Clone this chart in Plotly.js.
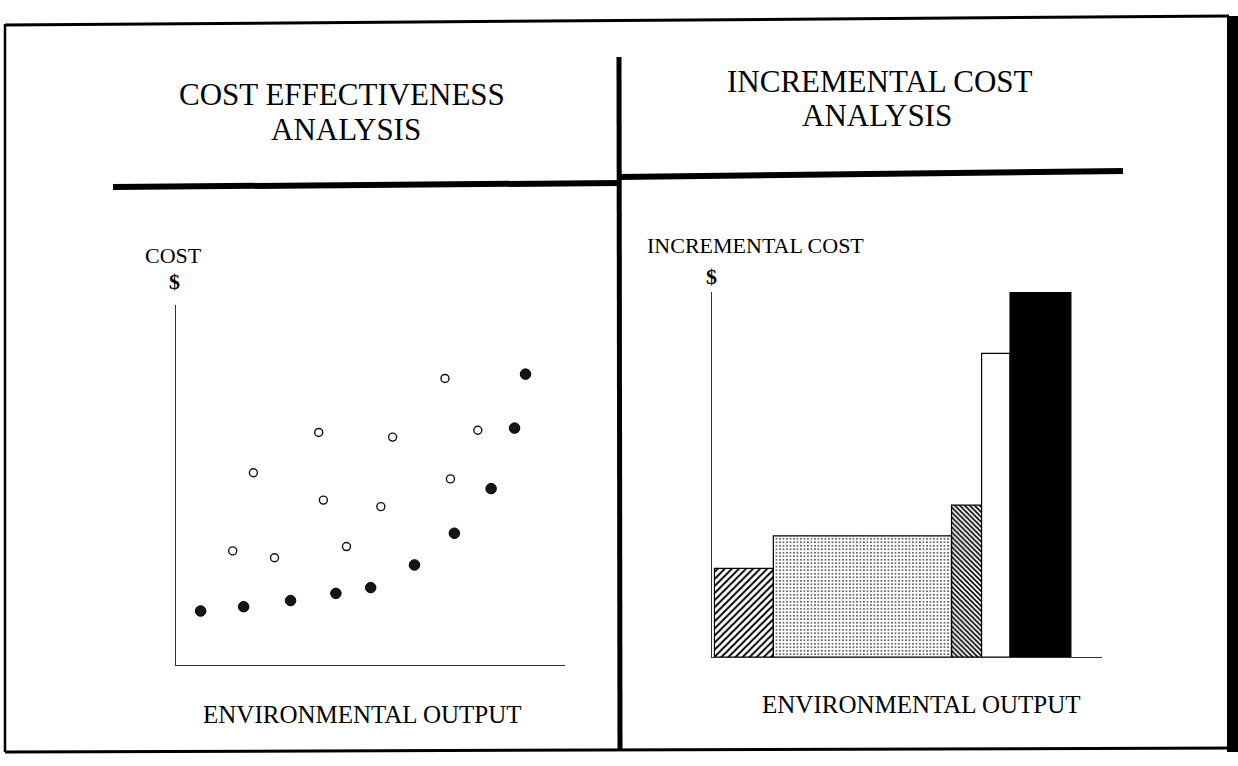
<!DOCTYPE html>
<html>
<head>
<meta charset="utf-8">
<script src="https://cdn.plot.ly/plotly-3.0.1.min.js"></script>
<style>html,body{margin:0;padding:0;background:#fff;}#chart{width:1238px;height:766px;}</style>
</head>
<body>
<div id="chart"></div>
<script>
// ---- Data (arbitrary units 0-100) ----
// Cost effectiveness analysis: efficient (filled) and other (open) plans
const efficientOutput = [6.8, 17.8, 29.8, 41.4, 50.3, 61.5, 71.7, 81.1, 87.1, 89.9];
const efficientCost   = [15.0, 16.2, 17.9, 19.9, 21.5, 27.8, 36.6, 49.0, 65.8, 80.8];
const otherOutput = [15.0, 20.3, 25.7, 37.0, 38.2, 44.1, 52.9, 55.9, 69.3, 70.7, 77.7];
const otherCost   = [31.7, 53.4, 29.8, 64.6, 45.8, 32.9, 44.0, 63.3, 79.6, 51.7, 65.2];

// Incremental cost analysis: output increments and incremental cost
const incrementStart = [0.7, 15.8, 61.5, 69.2, 76.5];
const incrementWidth = [15.1, 45.7, 7.7, 7.3, 15.6];
const incrementalCost = [24.3, 33.2, 41.6, 83.2, 99.9];

// Text
const leftTitle = ["COST EFFECTIVENESS", "ANALYSIS"];
const rightTitle = ["INCREMENTAL COST", "ANALYSIS"];
const xLabel = "ENVIRONMENTAL OUTPUT";
const leftYLabel = "COST";
const rightYLabel = "INCREMENTAL COST";
const currency = "$";

// ---- Layout helpers (pixel -> paper) ----
const W = 1238, H = 766;
const px = x => x / W;
const py = y => 1 - y / H;
const serif = "Liberation Serif, Times New Roman, serif";
const ink = "#000";

const barCenters = incrementStart.map((s, i) => s + incrementWidth[i] / 2);

const traces = [
  {
    type: "scatter", mode: "markers", xaxis: "x", yaxis: "y",
    x: otherOutput, y: otherCost,
    marker: {symbol: "circle", size: 8, color: "#fff", line: {color: "#111", width: 1.4}},
    hoverinfo: "skip", showlegend: false
  },
  {
    type: "scatter", mode: "markers", xaxis: "x", yaxis: "y",
    x: efficientOutput, y: efficientCost,
    marker: {symbol: "circle", size: 10.5, color: "#151515", line: {color: "#000", width: 1}},
    hoverinfo: "skip", showlegend: false
  },
  {
    type: "bar", xaxis: "x2", yaxis: "y2",
    x: barCenters, y: incrementalCost, width: incrementWidth,
    marker: {
      color: ["#000", "#333", "#000", "#fff", "#000"],
      line: {color: "#000", width: 1.2},
      pattern: {
        shape: ["/", ".", "\\", "", ""],
        fgcolor: ["#111", "#444", "#111", "#fff", "#000"],
        bgcolor: ["#fff", "#fff", "#fff", "#fff", "#000"],
        size: [5, 3.5, 3.5, 8, 8],
        solidity: [0.4, 0.2, 0.45, 0.3, 0.3],
        fillmode: "replace"
      }
    },
    hoverinfo: "skip", showlegend: false
  }
];

const axisCommon = {
  showgrid: false, zeroline: false, showticklabels: false, ticks: "",
  showline: true, linecolor: "#333", linewidth: 1, fixedrange: true
};

function ann(text, x, y, size, opts) {
  return Object.assign({
    text: text, xref: "paper", yref: "paper", x: px(x), y: py(y),
    xanchor: "center", yanchor: "middle", showarrow: false,
    font: {family: serif, size: size, color: ink}
  }, opts || {});
}

const annotations = [
  ann(leftTitle[0], 342, 94, 31),
  ann(leftTitle[1], 346, 129, 31),
  ann(rightTitle[0], 880, 81, 31),
  ann(rightTitle[1], 877, 116, 31),
  ann(leftYLabel, 173, 255, 22),
  ann("<b>" + currency + "</b>", 174, 282, 22),
  ann(rightYLabel, 645, 245, 22, {xanchor: "left"}),
  ann("<b>" + currency + "</b>", 711, 276, 22),
  ann(xLabel, 362, 714, 25),
  ann(xLabel, 921, 704, 25)
];

function line(x0, y0, x1, y1, w) {
  return {type: "line", xref: "paper", yref: "paper",
    x0: px(x0), y0: py(y0), x1: px(x1), y1: py(y1),
    line: {color: "#000", width: w}};
}

const shapes = [
  // frame
  line(5, 25, 1229, 16, 3),
  line(5, 24, 5, 752, 2.5),
  {type: "rect", xref: "paper", yref: "paper", x0: px(1227), x1: px(1238), y0: py(752), y1: py(16),
   fillcolor: "#000", line: {width: 0}},
  line(5, 752, 1238, 748, 3),
  // central divider
  line(619, 57, 620, 750, 5),
  // heading rules
  line(113, 187, 619, 183, 6),
  line(619, 177, 1123, 171, 6)
];

const layout = {
  width: W, height: H,
  margin: {l: 0, r: 0, t: 0, b: 0},
  paper_bgcolor: "#fff", plot_bgcolor: "rgba(0,0,0,0)",
  showlegend: false,
  xaxis: Object.assign({}, axisCommon, {domain: [px(176), px(565)], range: [0.5, 100], anchor: "y"}),
  yaxis: Object.assign({}, axisCommon, {domain: [py(665), py(305)], range: [0, 100], anchor: "x"}),
  xaxis2: Object.assign({}, axisCommon, {domain: [px(711.7), px(1101.7)], range: [0, 100], anchor: "y2"}),
  yaxis2: Object.assign({}, axisCommon, {domain: [py(657), py(292)], range: [0, 100], anchor: "x2"}),
  annotations: annotations,
  shapes: shapes
};

Plotly.newPlot("chart", traces, layout, {staticPlot: true, displayModeBar: false});
</script>
</body>
</html>
